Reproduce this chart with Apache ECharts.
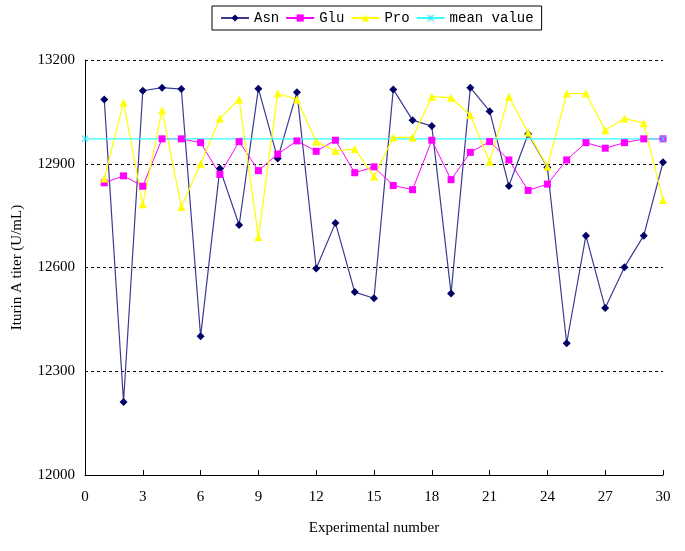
<!DOCTYPE html>
<html>
<head>
<meta charset="utf-8">
<script src="https://cdn.jsdelivr.net/npm/echarts@6/dist/echarts.min.js"></script>
<style>html,body{margin:0;padding:0;background:#fff;}#c{width:685px;height:551px;}</style>
</head>
<body>
<div id="c"></div>
<script>
const experiments = [1,2,3,4,5,6,7,8,9,10,11,12,13,14,15,16,17,18,19,20,21,22,23,24,25,26,27,28,29,30];
const asn = [13086,12211,13111,13120,13116,12401,12886,12723,13117,12915,13107,12597,12729,12529,12511,13115,13026,13009,12525,13120,13052,12836,12986,12889,12381,12692,12483,12601,12692,12904];
const glu = [12845,12865,12835,12972,12972,12961,12869,12964,12880,12928,12966,12936,12968,12874,12891,12837,12825,12968,12854,12933,12964,12911,12823,12841,12911,12961,12945,12961,12972,12972];
const pro = [12857,13077,12783,13055,12775,12900,13031,13086,12688,13103,13086,12964,12937,12943,12863,12976,12976,13094,13091,13041,12906,13094,12990,12891,13103,13103,12997,13031,13017,12795];
const meanX = [0,30];
const meanValue = 12972;
const yTicks = {min:12000, max:13200, interval:300};
const xTicks = {min:0, max:30, interval:3};

function pairs(xs, ys){ return xs.map((x,i)=>[x, ys[i]]); }
const crossPath = 'path://M0,1L1,0L10,9L9,10Z M9,0L10,1L1,10L0,9Z M4.5,0L5.5,0L5.5,10L4.5,10Z';

const chart = echarts.init(document.getElementById('c'), null, {renderer:'canvas'});
chart.setOption({
  animation:false,
  backgroundColor:'#ffffff',
  legend:{
    top:6, left:212,
    itemGap:6, itemWidth:28, itemHeight:9,
    padding:[5,8,5,8],
    borderColor:'#000', borderWidth:1,
    textStyle:{fontFamily:'Liberation Mono', fontSize:14, color:'#000'},
    data:['Asn','Glu','Pro','mean value']
  },
  grid:{left:85, right:22, top:60, bottom:76},
  xAxis:{
    type:'value', min:xTicks.min, max:xTicks.max, interval:xTicks.interval,
    name:'Experimental number', nameLocation:'middle', nameGap:46,
    nameTextStyle:{fontFamily:'Liberation Serif', fontSize:15, color:'#000'},
    axisLine:{lineStyle:{color:'#000', width:1}},
    axisTick:{inside:true, length:5, lineStyle:{color:'#000'}},
    axisLabel:{fontFamily:'Liberation Serif', fontSize:15, color:'#000', margin:15},
    splitLine:{show:false}
  },
  yAxis:{
    type:'value', min:yTicks.min, max:yTicks.max, interval:yTicks.interval,
    name:'Iturin A titer (U/mL)', nameLocation:'middle', nameGap:60,
    nameTextStyle:{fontFamily:'Liberation Serif', fontSize:15, color:'#000'},
    axisLine:{show:true, lineStyle:{color:'#000', width:1}},
    axisTick:{show:false},
    axisLabel:{fontFamily:'Liberation Serif', fontSize:15, color:'#000', margin:10, formatter:v=>String(v)},
    splitLine:{show:true, lineStyle:{color:'#000', type:[3,3], width:1}}
  },
  series:[
    {name:'Asn', type:'line', data:pairs(experiments, asn),
     symbol:'diamond', symbolSize:8, lineStyle:{color:'#3a3a90', width:1.2},
     itemStyle:{color:'#000066'}},
    {name:'Glu', type:'line', data:pairs(experiments, glu),
     symbol:'rect', symbolSize:7, lineStyle:{color:'#ff00ff', width:1},
     itemStyle:{color:'#ff00ff'}},
    {name:'Pro', type:'line', data:pairs(experiments, pro),
     symbol:'triangle', symbolSize:8, lineStyle:{color:'#ffff00', width:1.2},
     itemStyle:{color:'#ffff00'}},
    {name:'mean value', type:'line', data:meanX.map(x=>[x, meanValue]),
     symbol:crossPath, symbolSize:7, showAllSymbol:true,
     lineStyle:{color:'#33ffff', width:1.2}, itemStyle:{color:'#33ddff'}}
  ]
});
</script>
</body>
</html>
